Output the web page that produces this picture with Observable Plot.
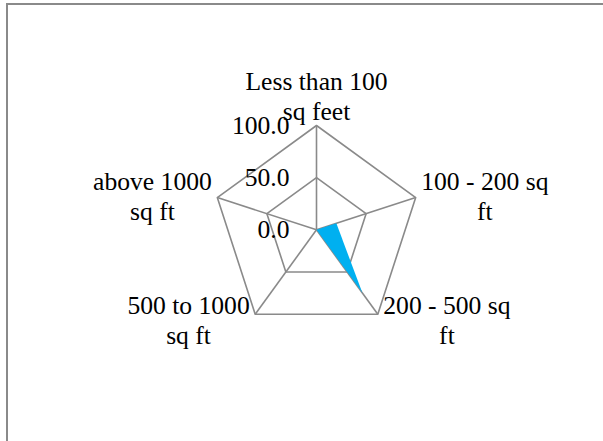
<!DOCTYPE html>
<html><head><meta charset="utf-8">
<script src="https://cdn.jsdelivr.net/npm/d3@7"></script>
<script src="https://cdn.jsdelivr.net/npm/@observablehq/plot@0.6"></script>
<style>
html,body{margin:0;padding:0;background:#fff;}
#wrap{position:relative;width:603px;height:441px;overflow:hidden;}
#wrap svg{position:absolute;left:0;top:0;}
#border{position:absolute;left:6px;top:3px;right:-10px;bottom:-10px;border-top:2px solid #8a8a8a;border-left:2px solid #8a8a8a;}
</style></head><body><div id="wrap"><div id="border"></div></div>
<script>
const categories = ["Less than 100\nsq feet", "100 - 200 sq\nft", "200 - 500 sq\nft", "500 to 1000\nsq ft", "above 1000\nsq ft"];
const values = [0, 20, 75, 0, 0];
const levels = [0, 50, 100];
const tickLabels = ["0.0", "50.0", "100.0"];

const W = 603, H = 441;
const cx = 316, cy = 229.3, R = 104.3; // center and radius (px) of the 100 ring
const maxV = 100;
const k = R / maxV; // px per unit
const FONT = "'Liberation Serif', 'Times New Roman', serif";
const FS = 25.6;

const n = categories.length;
const ang = i => Math.PI / 2 - i * 2 * Math.PI / n;
const pt = (r, i) => [r * Math.cos(ang(i)), r * Math.sin(ang(i))];

// grid rings
const ringRows = [];
levels.filter(l => l > 0).forEach(l => {
  for (let j = 0; j <= n; j++) {
    const [x, y] = pt(l, j % n);
    ringRows.push({level: l, x, y});
  }
});
// spokes
const spokes = categories.map((c, i) => { const [x, y] = pt(maxV, i); return {x, y}; });
// data polygon
const dataRows = [];
for (let j = 0; j <= n; j++) {
  const [x, y] = pt(values[j % n], j % n);
  dataRows.push({x, y});
}
// label positions
const ctx = document.createElement("canvas").getContext("2d");
ctx.font = `${FS}px ${FONT}`;
const labelRows = categories.map((c, i) => {
  const [vx, vy] = pt(maxV, i);
  const cs = Math.cos(ang(i)), sn = Math.sin(ang(i));
  const hw = Math.max(...c.split("\n").map(s => ctx.measureText(s).width)) / 2;
  let ox, oy;
  if (Math.abs(cs) > 0.1) { ox = Math.sign(cs) * (5.5 + hw); oy = sn * 6.5; }
  else { ox = 0; oy = 30; }
  return {x: vx + ox / k, y: vy + oy / k, text: c};
});

const chart = Plot.plot({
  width: W, height: H,
  marginTop: 0, marginRight: 0, marginBottom: 0, marginLeft: 0,
  x: {domain: [-cx / k, (W - cx) / k], axis: null},
  y: {domain: [-(H - cy) / k, cy / k], axis: null},
  style: {fontFamily: FONT, fontSize: FS + "px", color: "#000", background: "transparent"},
  marks: [
    Plot.link(spokes, {x1: 0, y1: 0, x2: "x", y2: "y", stroke: "#8a8a8a", strokeWidth: 1.6}),
    Plot.line(ringRows, {x: "x", y: "y", z: "level", stroke: "#8a8a8a", strokeWidth: 1.6}),
    Plot.line(dataRows, {x: "x", y: "y", fill: "#00b0f0", stroke: "none"}),
    Plot.text(levels, {x: 0, y: d => d, text: (d, i) => tickLabels[i], textAnchor: "end", dx: -27, fontSize: FS, fill: "#000"}),
    Plot.text(labelRows, {x: "x", y: "y", text: "text", textAnchor: "middle", lineAnchor: "middle", lineHeight: 1.17, fontSize: FS, fill: "#000"})
  ]
});
document.getElementById("wrap").prepend(chart);
</script>
</body></html>
